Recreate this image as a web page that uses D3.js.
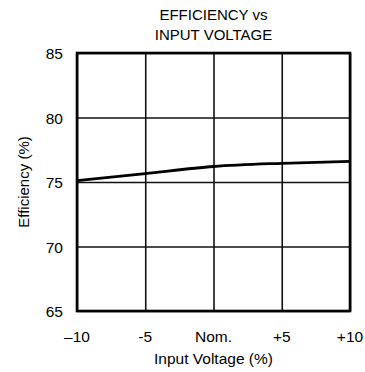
<!DOCTYPE html>
<html>
<head>
<meta charset="utf-8">
<script src="https://cdn.jsdelivr.net/npm/d3@7"></script>
<style>
  body { margin: 0; background: #fff; }
  text { font-family: 'Liberation Sans', Arial, sans-serif; fill: #000; }
</style>
</head>
<body>
<div id="chart"></div>
<script>
const inputVoltage = [-10, -5, 0, 5, 10];
const efficiency = [75.1, 75.65, 76.2, 76.45, 76.6];
const xTickValues = [-10, -5, 0, 5, 10];
const xTickLabels = ['\u201310', '-5', 'Nom.', '+5', '+10'];
const yTickValues = [65, 70, 75, 80, 85];

const width = 365, height = 372;
const margin = { top: 53, right: 15, bottom: 60, left: 77 };
const plotW = width - margin.left - margin.right;
const plotH = height - margin.top - margin.bottom - 1;

const svg = d3.select('#chart').append('svg')
  .attr('width', width)
  .attr('height', height);

const g = svg.append('g').attr('transform', 'translate(' + margin.left + ',' + margin.top + ')');

const x = d3.scaleLinear().domain([-10, 10]).range([0, plotW]);
const y = d3.scaleLinear().domain([65, 85]).range([plotH, 0]);

// grid
g.append('g')
  .call(d3.axisBottom(x).tickValues(xTickValues).tickSize(plotH).tickFormat(''))
  .call(a => a.select('.domain').remove())
  .selectAll('line').attr('stroke', '#111').attr('stroke-width', 1.6);

g.append('g')
  .call(d3.axisLeft(y).tickValues(yTickValues).tickSize(-plotW).tickFormat(''))
  .call(a => a.select('.domain').remove())
  .selectAll('line').attr('stroke', '#111').attr('stroke-width', 1.6);

// frame
g.append('rect')
  .attr('x', 0).attr('y', 0)
  .attr('width', plotW).attr('height', plotH)
  .attr('fill', 'none')
  .attr('stroke', '#000')
  .attr('stroke-width', 2.6);

// tick labels
g.selectAll('.xlab')
  .data(xTickValues)
  .enter().append('text')
  .attr('x', d => x(d))
  .attr('y', 342 - margin.top)
  .attr('text-anchor', 'middle')
  .style('font-size', '15.5px')
  .text((d, i) => xTickLabels[i]);

g.selectAll('.ylab')
  .data(yTickValues)
  .enter().append('text')
  .attr('x', -14)
  .attr('y', d => y(d) + 6)
  .attr('text-anchor', 'end')
  .style('font-size', '15.5px')
  .text(d => d);

// curve
g.append('path')
  .datum(inputVoltage.map((v, i) => ({ v: v, e: efficiency[i] })))
  .attr('fill', 'none')
  .attr('stroke', '#000')
  .attr('stroke-width', 2.8)
  .attr('d', d3.line()
    .x(d => x(d.v))
    .y(d => y(d.e))
    .curve(d3.curveMonotoneX));

// titles
svg.append('text')
  .attr('x', margin.left + plotW / 2)
  .attr('y', 20)
  .attr('text-anchor', 'middle')
  .style('font-size', '15px')
  .text('EFFICIENCY vs');

svg.append('text')
  .attr('x', margin.left + plotW / 2)
  .attr('y', 40)
  .attr('text-anchor', 'middle')
  .style('font-size', '15px')
  .text('INPUT VOLTAGE');

svg.append('text')
  .attr('x', margin.left + plotW / 2)
  .attr('y', 364)
  .attr('text-anchor', 'middle')
  .style('font-size', '15.5px')
  .text('Input Voltage (%)');

svg.append('text')
  .attr('transform', 'rotate(-90)')
  .attr('x', -(margin.top + plotH / 2))
  .attr('y', 29)
  .attr('text-anchor', 'middle')
  .style('font-size', '15px')
  .text('Efficiency (%)');
</script>
</body>
</html>
